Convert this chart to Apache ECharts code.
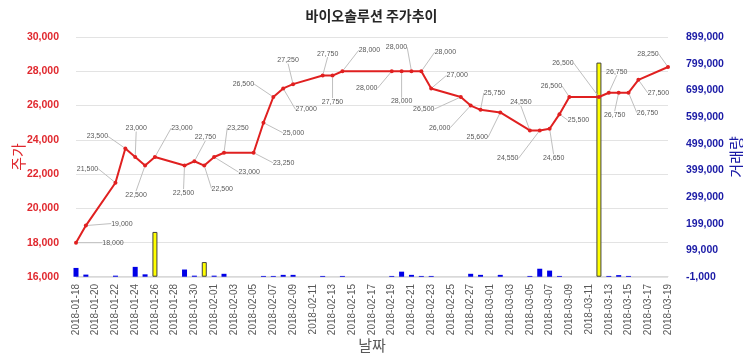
<!DOCTYPE html>
<html>
<head>
<meta charset="utf-8">
<script src="https://cdn.jsdelivr.net/npm/echarts@6/dist/echarts.min.js"></script>
<style>html,body{margin:0;padding:0;background:#fff;}#c{width:743px;height:357px;}</style>
</head>
<body>
<div id="c"></div>
<script>
const titleText = '바이오솔루션 주가추이';
const xStart = '2018-01-18';
const xEnd = '2018-03-19';
const dates = ['2018-01-18','2018-01-19','2018-01-22','2018-01-23','2018-01-24','2018-01-25','2018-01-26',
  '2018-01-29','2018-01-30','2018-01-31','2018-02-01','2018-02-02','2018-02-05','2018-02-06','2018-02-07',
  '2018-02-08','2018-02-09','2018-02-12','2018-02-13','2018-02-14','2018-02-19','2018-02-20','2018-02-21',
  '2018-02-22','2018-02-23','2018-02-26','2018-02-27','2018-02-28','2018-03-02','2018-03-05','2018-03-06',
  '2018-03-07','2018-03-08','2018-03-09','2018-03-12','2018-03-13','2018-03-14','2018-03-15','2018-03-16','2018-03-19'];
const prices = [18000,19000,21500,23500,23000,22500,23000,22500,22750,22500,23000,23250,23250,25000,26500,
  27000,27250,27750,27750,28000,28000,28000,28000,28000,27000,26500,26000,25750,25600,24550,24550,
  24650,25500,26500,26500,26750,26750,26750,27500,28250];
const volumes = [33000,8000,4000,0,37000,9000,168000,27000,4000,55000,4000,11000,0,3000,3000,
  7000,7000,3000,0,3000,3000,19000,7000,3000,3000,0,11000,7000,7000,3000,30000,
  23000,3000,0,803000,3000,6000,3000,0,0];
const highlightDates = ['2018-01-26','2018-01-31','2018-03-12'];
// label offsets (dx, dy) relative to each point
const labelOffsets = [[37,0],[36,-2],[-28,-14],[-28,-12],[1,-29],[-9,29],[27,-29],[-1,27],[11,-24],[18,23],
  [35,15],[14,-25],[30,10],[30,10],[-30,-13],[23,21],[-5,-24],[5,-22],[0,26],[27,-21],
  [-25,17],[0,30],[-15,-24],[24,-19],[26,-13],[-37,12],[-31,22],[14,-17],[-23,25],[-9,-28],
  [-32,28],[4,29],[19,6],[-18,-11],[-36,-34],[8,-21],[-4,22],[19,20],[20,13],[-20,-13]];

const DAY = 86400000;
function toUTC(s){ const p = s.split('-').map(Number); return Date.UTC(p[0], p[1]-1, p[2]); }
const t0 = toUTC(xStart);
function dayIdx(s){ return Math.round((toUTC(s) - t0) / DAY); }
function idxToDate(v){ const d = new Date(t0 + v*DAY); const m = String(d.getUTCMonth()+1).padStart(2,'0'); const dd = String(d.getUTCDate()).padStart(2,'0'); return d.getUTCFullYear()+'-'+m+'-'+dd; }

const lineData = dates.map((d,i)=>[dayIdx(d), prices[i]]);
const barData = dates.map((d,i)=>{
  const hl = highlightDates.indexOf(d) >= 0;
  return { value:[dayIdx(d), volumes[i]], itemStyle: hl ? {color:'#ffff00', borderColor:'#404040', borderWidth:1} : {color:'#0000e6'} };
});

const chart = echarts.init(document.getElementById('c'));
chart.setOption({
  animation:false,
  backgroundColor:'#ffffff',
  title:{ text:titleText, left:'center', top:4, textStyle:{fontSize:14, fontWeight:'bold', color:'#262626', fontFamily:'Noto Sans CJK KR'} },
  grid:{ left:76, right:75, top:37, bottom:80, containLabel:false, outerBoundsMode:'none' },
  xAxis:{
    type:'value', min:0, max:dayIdx(xEnd), interval:2,
    name:'날짜', nameLocation:'middle', nameGap:61, nameMoveOverlap:false,
    nameTextStyle:{fontSize:15, color:'#595959', fontFamily:'Noto Sans CJK KR'},
    axisLine:{show:true, lineStyle:{color:'#d9d9d9'}}, axisTick:{show:false}, splitLine:{show:false},
    axisLabel:{ rotate:90, margin:7, fontSize:10, color:'#595959', fontFamily:'Liberation Sans', formatter:(v)=>idxToDate(v) }
  },
  yAxis:[{
    type:'value', min:16000, max:30000, interval:2000,
    name:'주가', nameLocation:'middle', nameGap:50, nameMoveOverlap:false,
    nameTextStyle:{fontSize:15, color:'#e0282e', fontFamily:'Noto Sans CJK KR'},
    axisLine:{show:false}, axisTick:{show:false},
    splitLine:{lineStyle:{color:'#e3e3e3'}},
    axisLabel:{ margin:17, fontSize:10.5, fontWeight:'bold', color:'#e0282e', fontFamily:'Liberation Sans', formatter:(v)=>v.toLocaleString('en-US') }
  },{
    type:'value', min:-1000, max:899000, interval:100000,
    name:'거래량', nameLocation:'middle', nameGap:61, nameMoveOverlap:false,
    nameTextStyle:{fontSize:15, color:'#1a1aa6', fontFamily:'Noto Sans CJK KR'},
    axisLine:{show:false}, axisTick:{show:false}, splitLine:{show:false},
    axisLabel:{ margin:18, fontSize:10.5, fontWeight:'bold', color:'#1a1aa6', fontFamily:'Liberation Sans', formatter:(v)=>v.toLocaleString('en-US') }
  }],
  series:[{
    type:'bar', yAxisIndex:1, barWidth:5, data:barData, z:1
  },{
    type:'line', yAxisIndex:0, data:lineData, z:3,
    symbol:'circle', symbolSize:4,
    lineStyle:{color:'#e02020', width:2}, itemStyle:{color:'#e02020'},
    label:{ show:true, position:'inside', fontSize:7, color:'#595959', fontFamily:'Liberation Sans',
      formatter:(p)=>p.value[1].toLocaleString('en-US') },
    labelLine:{ show:true, lineStyle:{color:'#bfbfbf', width:1} },
    labelLayout:(params)=>{ const o = labelOffsets[params.dataIndex]; return {dx:o[0], dy:o[1]}; }
  }]
});
</script>
</body>
</html>
